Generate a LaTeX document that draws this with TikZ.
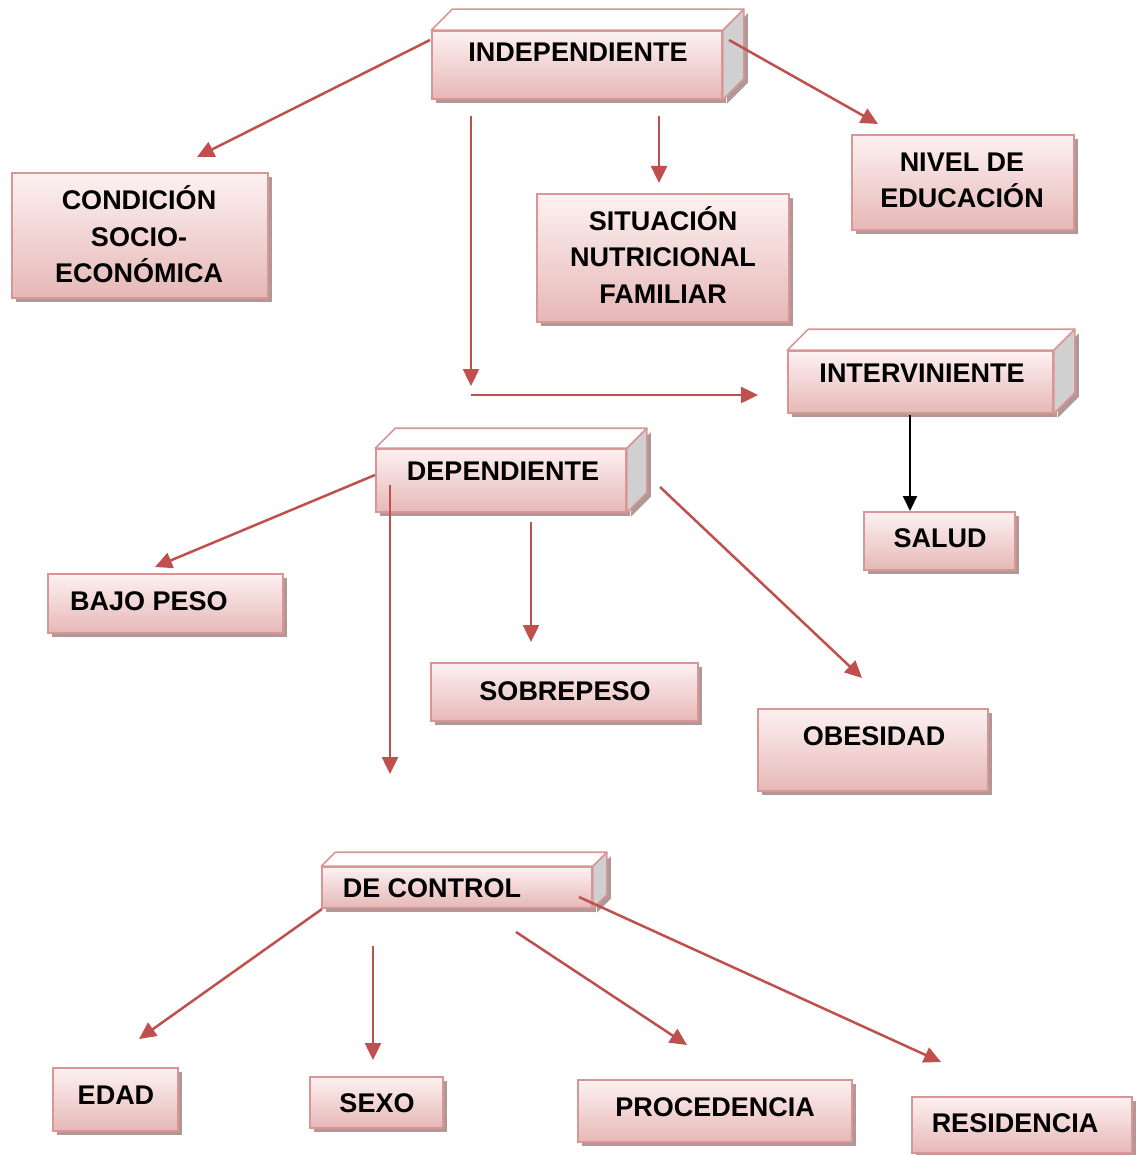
\documentclass[tikz,border=0pt]{standalone}
\usepackage{fontspec}
\setmainfont{Liberation Sans}
\usetikzlibrary{arrows.meta,shadows,calc}
\definecolor{arrowc}{HTML}{C0504D}
\definecolor{bordc}{HTML}{D99694}
\definecolor{topc}{HTML}{FDF1F1}
\definecolor{botc}{HTML}{E6B8B7}
\definecolor{shadowc}{HTML}{B09898}
\definecolor{sidec}{HTML}{D0D0D0}
\tikzset{
  vbox/.style={draw=bordc, line width=1.6pt, top color=topc, bottom color=botc,
    inner sep=0pt, general shadow={fill=shadowc, shadow xshift=4pt, shadow yshift=-4pt}},
  lbl/.style={font=\bfseries\fontsize{27}{36.5}\selectfont, inner sep=0pt, align=center, anchor=base},
  conn/.style={draw=arrowc, line width=2.5pt, -{Triangle[length=17pt,width=16pt]}},
  connk/.style={draw=black, line width=2pt, -{Triangle[length=15pt,width=14pt]}},
  topface/.style={fill=white, draw=bordc, line width=1.6pt, line join=round},
  sideface/.style={fill=sidec, draw=bordc, line width=1.6pt, line join=round},
}
\newcommand\flatbox[5]{%
  \node[vbox, minimum width=#4pt, minimum height=#5pt] (#1) at (#2,#3) {};}
\newcommand\cubebox[6]{%
  \node[vbox, minimum width=#4pt, minimum height=#5pt] (#1) at (#2,#3) {};
  \fill[shadowc] ($(#1.north east)+(4,4)$) -- ++(#6,-#6) -- ($(#1.south east)+(#6,-#6)+(4,4)$) -- ($(#1.south east)+(4,4)$) -- cycle;
  \path[sideface] (#1.north east) -- ++(#6,-#6) -- ($(#1.south east)+(#6,-#6)$) -- (#1.south east) -- cycle;
  \path[topface] (#1.north west) -- ++(#6,-#6) -- ($(#1.north east)+(#6,-#6)$) -- (#1.north east) -- cycle;}
\begin{document}
\begin{tikzpicture}[x=1pt,y=-1pt]
\useasboundingbox[fill=white] (0,0) rectangle (1136,1155);
% boxes
\cubebox{ind}{577}{65}{290}{68}{21}
\flatbox{cond}{140}{235.5}{256}{125}
\flatbox{sit}{663}{258}{252}{128}
\flatbox{niv}{963}{182.5}{222}{95}
\cubebox{inter}{920.5}{382}{265}{62}{21}
\cubebox{dep}{501}{480.5}{250}{63}{20}
\flatbox{salud}{939.5}{541}{151}{58}
\flatbox{bajo}{165.5}{603.5}{235}{59}
\flatbox{sobre}{564.5}{692}{267}{58}
\flatbox{obes}{873}{750}{230}{82}
\cubebox{dc}{457}{887.5}{270}{41}{14}
\flatbox{edad}{115.5}{1099.5}{125}{63}
\flatbox{sexo}{376.5}{1102.5}{133}{51}
\flatbox{proc}{715}{1111}{274}{62}
\flatbox{resid}{1022}{1125}{220}{56}
% labels
\node[lbl] (tind) at (578,62) {INDEPENDIENTE};
\node[lbl] (tcond) at (139,283) {CONDICIÓN\\SOCIO-\\ECONÓMICA};
\node[lbl] (tsit) at (663,303) {SITUACIÓN\\NUTRICIONAL\\FAMILIAR};
\node[lbl] (tniv) at (962,208) {NIVEL DE\\EDUCACIÓN};
\node[lbl] (tinter) at (922,382) {INTERVINIENTE};
\node[lbl] (tdep) at (503,480) {DEPENDIENTE};
\node[lbl] (tsalud) at (940,547) {SALUD};
\node[lbl] (tbajo) at (149,610) {BAJO PESO};
\node[lbl] (tsobre) at (565,700) {SOBREPESO};
\node[lbl] (tobes) at (874,745) {OBESIDAD};
\node[lbl] (tdc) at (432,897) {DE CONTROL};
\node[lbl] (tedad) at (116,1104) {EDAD};
\node[lbl] (tsexo) at (377,1112) {SEXO};
\node[lbl] (tproc) at (715,1116) {PROCEDENCIA};
\node[lbl] (tresid) at (1015,1132) {RESIDENCIA};
% connector end points
\coordinate (a1s) at (430,40);  \coordinate (a1e) at (197,157);
\coordinate (a2s) at (659,116); \coordinate (a2e) at (659,183);
\coordinate (a3s) at (729,40);  \coordinate (a3e) at (878,124);
\coordinate (a4s) at (471,116); \coordinate (a4e) at (471,386);
\coordinate (a5s) at (471,395); \coordinate (a5e) at (758,395);
\coordinate (a6s) at (910,415); \coordinate (a6e) at (910,511);
\coordinate (a7s) at (375,475); \coordinate (a7e) at (155,567);
\coordinate (a8s) at (390,485); \coordinate (a8e) at (390,774);
\coordinate (a9s) at (531,522); \coordinate (a9e) at (531,642);
\coordinate (a10s) at (660,487); \coordinate (a10e) at (862,678);
\coordinate (a11s) at (322,909); \coordinate (a11e) at (139,1039);
\coordinate (a12s) at (373,946); \coordinate (a12e) at (373,1060);
\coordinate (a13s) at (516,932); \coordinate (a13e) at (687,1045);
\coordinate (a14s) at (579,897); \coordinate (a14e) at (941,1062);
% connectors
\draw[conn] (a1s) -- (a1e);
\draw[conn] (a2s) -- (a2e);
\draw[conn] (a3s) -- (a3e);
\draw[conn] (a4s) -- (a4e);
\draw[conn] (a5s) -- (a5e);
\draw[connk] (a6s) -- (a6e);
\draw[conn] (a7s) -- (a7e);
\draw[conn] (a8s) -- (a8e);
\draw[conn] (a9s) -- (a9e);
\draw[conn] (a10s) -- (a10e);
\draw[conn] (a11s) -- (a11e);
\draw[conn] (a12s) -- (a12e);
\draw[conn] (a13s) -- (a13e);
\draw[conn] (a14s) -- (a14e);
\end{tikzpicture}
\end{document}
